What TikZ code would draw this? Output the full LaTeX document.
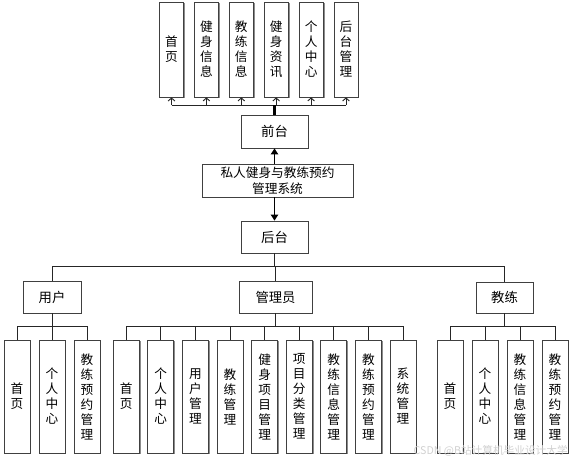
\documentclass[tikz,border=0pt]{standalone}
\usepackage{fontspec}
\setmainfont{Noto Sans CJK SC}
\usetikzlibrary{shadows,arrows.meta}
\begin{document}
\begin{tikzpicture}[x=0.75pt,y=-0.75pt,
  box/.style={draw=black!75, line width=0.6pt, fill=white,
    drop shadow={shadow xshift=1.1pt,shadow yshift=-1.1pt,fill=black!45,opacity=1},
    inner sep=0pt, align=center, font=\fontsize{9.5}{11.25}\selectfont},
  topbox/.style={box, minimum width=18pt, minimum height=71.25pt},
  leaf/.style={box, minimum width=19.5pt, minimum height=84.75pt},
  wire/.style={draw=black!85, line width=0.7pt},
  barb/.style={wire, -{Straight Barb[length=2.2pt,width=5pt]}},
  thick arrow/.style={draw=black, line width=1.3pt, -{Triangle[length=4.5pt,width=5.5pt]}}]
\useasboundingbox (0,0) rectangle (574,461);

% top row
\node[topbox] (t1) at (171.5,49.5) {首\\页};
\node[topbox] (t2) at (206.4,49.5) {健\\身\\信\\息};
\node[topbox] (t3) at (241.3,49.5) {教\\练\\信\\息};
\node[topbox] (t4) at (276.2,49.5) {健\\身\\资\\讯};
\node[topbox] (t5) at (311.1,49.5) {个\\人\\中\\心};
\node[topbox] (t6) at (346,49.5) {后\\台\\管\\理};

\node[box, minimum width=50.25pt, minimum height=24.75pt, font=\fontsize{10}{12}\selectfont] (front) at (274.5,131.5) {前台};
\node[box, minimum width=113.25pt, minimum height=24.75pt, font=\fontsize{9.5}{12.2}\selectfont] (sys) at (277.5,180.5) {私人健身与教练预约\\管理系统};
\node[box, minimum width=50.25pt, minimum height=24pt, font=\fontsize{10}{12}\selectfont] (back) at (274.5,237) {后台};

\coordinate (tb) at (276,105);
\draw[wire] (t1.south |- tb) -- (t6.south |- tb);
\foreach \i in {1,...,6} \draw[barb] (t\i.south |- tb) -- (t\i.south);
\draw[draw=black, line width=1.6pt] (front.north) -- (front.north |- tb);
\draw[thick arrow] (sys.north -| front.north) -- (front.south);
\draw[thick arrow] (sys.south -| back.north) -- (back.north);

% roles
\node[box, minimum width=43.5pt, minimum height=24pt, font=\fontsize{10}{12}\selectfont] (user) at (52,297) {用户};
\node[box, minimum width=54.75pt, minimum height=24pt, font=\fontsize{10}{12}\selectfont] (admin) at (275.5,297) {管理员};
\node[box, minimum width=42.75pt, minimum height=23.25pt, font=\fontsize{10}{12}\selectfont] (coach) at (504.5,297.5) {教练};

\coordinate (rb) at (274.5,266);
\draw[wire] (back.south) -- (back.south |- rb);
\draw[wire] (user.north) -- (user.north |- rb) -- (coach.north |- rb) -- (coach.north);
\draw[wire] (admin.north |- rb) -- (admin.north);

% leaves
\coordinate (cb) at (0,326);
\node[leaf] (u1) at (17,396.5) {首\\页};
\node[leaf] (u2) at (52,396.5) {个\\人\\中\\心};
\node[leaf] (u3) at (87,396.5) {教\\练\\预\\约\\管\\理};

\node[leaf] (a1) at (126.3,396.5) {首\\页};
\node[leaf] (a2) at (160.8,396.5) {个\\人\\中\\心};
\node[leaf] (a3) at (195.4,396.5) {用\\户\\管\\理};
\node[leaf] (a4) at (230,396.5) {教\\练\\管\\理};
\node[leaf] (a5) at (264.6,396.5) {健\\身\\项\\目\\管\\理};
\node[leaf] (a6) at (299.2,396.5) {项\\目\\分\\类\\管\\理};
\node[leaf] (a7) at (333.8,396.5) {教\\练\\信\\息\\管\\理};
\node[leaf] (a8) at (368.4,396.5) {教\\练\\预\\约\\管\\理};
\node[leaf] (a9) at (403,396.5) {系\\统\\管\\理};

\node[leaf] (c1) at (450,396.5) {首\\页};
\node[leaf] (c2) at (485,396.5) {个\\人\\中\\心};
\node[leaf] (c3) at (520,396.5) {教\\练\\信\\息\\管\\理};
\node[leaf] (c4) at (555,396.5) {教\\练\\预\\约\\管\\理};

\draw[wire] (user.south) -- (user.south |- cb);
\draw[wire] (u1.north) -- (u1.north |- cb) -- (u3.north |- cb) -- (u3.north);
\draw[wire] (u2.north) -- (u2.north |- cb);

\draw[wire] (admin.south) -- (admin.south |- cb);
\draw[wire] (a1.north) -- (a1.north |- cb) -- (a9.north |- cb) -- (a9.north);
\foreach \i in {2,...,8} \draw[wire] (a\i.north) -- (a\i.north |- cb);

\draw[wire] (coach.south) -- (coach.south |- cb);
\draw[wire] (c1.north) -- (c1.north |- cb) -- (c4.north |- cb) -- (c4.north);
\foreach \i in {2,3} \draw[wire] (c\i.north) -- (c\i.north |- cb);

% watermark
\node[text=black!18, font=\fontsize{8}{9}\selectfont, inner sep=0pt, anchor=east] (wm) at (568,451) {CSDN @B站计算机毕业设计大学};
\end{tikzpicture}
\end{document}
